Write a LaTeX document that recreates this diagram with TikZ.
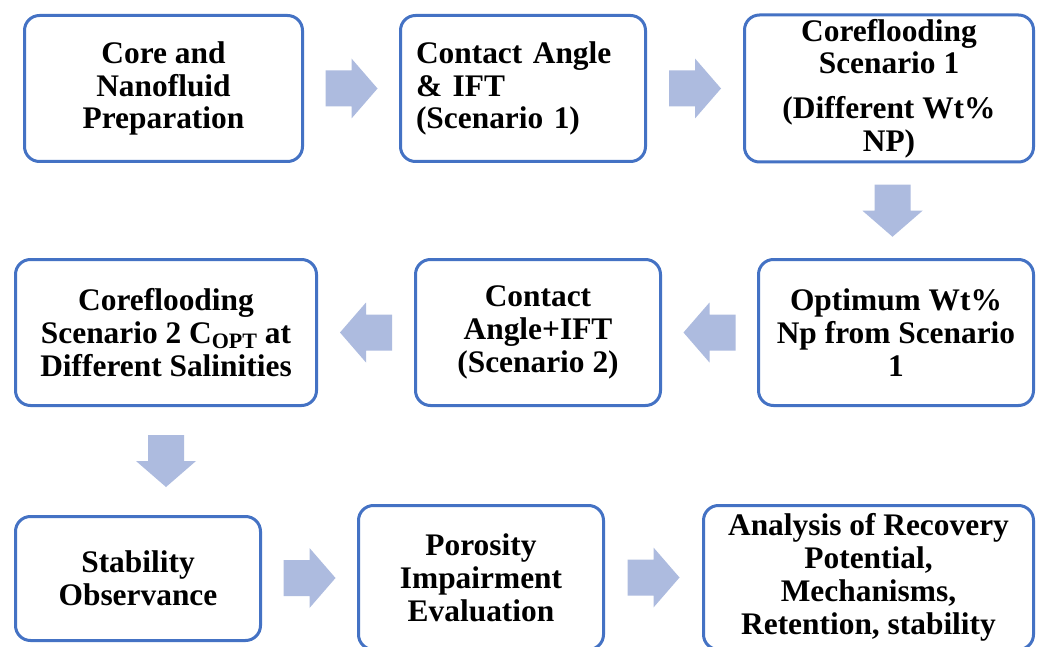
\documentclass[tikz,border=0pt]{standalone}
\usepackage{fontspec}
\setmainfont{Liberation Serif}
\usetikzlibrary{positioning, calc}
\definecolor{boxblue}{HTML}{4472C4}
\definecolor{arrowblue}{HTML}{ADBBDF}
\tikzset{
    stepbox/.style={draw=boxblue, line width=3pt, rounded corners=15pt, fill=white,
        inner sep=0pt, align=center, font=\fontsize{31.4}{32.8}\selectfont\bfseries},
    blockarrow/.pic={\fill[arrowblue] (-26,-18) -- (0,-18) -- (0,-30) -- (26,0)
        -- (0,30) -- (0,18) -- (-26,18) -- cycle;}
}
\newcommand{\copt}{C\raisebox{-5pt}{\fontsize{22}{22}\selectfont OPT}}

\begin{document}
\begin{tikzpicture}[x=1pt, y=-1pt]
    % Page frame
    \clip (0,0) rectangle (1041,647);
    \fill[white] (0,0) rectangle (1041,647);
    % First row of steps
    \node[stepbox, minimum width=278pt, minimum height=146pt] (prep) at (163.5,88.5) {Core and\\Nanofluid\\Preparation};
    \node[stepbox, minimum width=245pt, minimum height=146pt, text width=214pt, align=left] (caone) at (523,88.5) {Contact Angle\\\& IFT\\(Scenario 1)};
    \node[stepbox, minimum width=289pt, minimum height=147pt] (cfone) at (889,88.5) {Coreflooding\\Scenario 1\\[12pt](Different Wt\%\\NP)};
    % Second row of steps
    \node[stepbox, minimum width=275pt, minimum height=146pt] (optnp) at (896,332.5) {Optimum Wt\%\\Np from Scenario\\1};
    \node[stepbox, minimum width=245pt, minimum height=146pt] (catwo) at (538,332.5) {Contact\\Angle+IFT\\(Scenario 2)};
    \node[stepbox, minimum width=301pt, minimum height=146pt] (cftwo) at (166,332.5) {Coreflooding\\Scenario 2 \copt{} at\\Different Salinities};
    % Third row of steps
    \node[stepbox, minimum width=245pt, minimum height=124pt] (stab) at (138,578.5) {Stability\\Observance};
    \node[stepbox, minimum width=245pt, minimum height=144pt] (poro) at (481,577.5) {Porosity\\Impairment\\Evaluation};
    \node[stepbox, minimum width=330pt, minimum height=144pt] (analysis) at (868.5,577.5) {Analysis of Recovery\\Potential,\\Mechanisms,\\Retention, stability};
    % Block arrows between the steps
    \path ($(prep.east)!0.5!(caone.west)$) pic {blockarrow};
    \path ($(caone.east)!0.5!(cfone.west)$) pic {blockarrow};
    \path ($(cfone.south)!0.5!(optnp.north)$) pic[rotate=-90] {blockarrow};
    \path ($(optnp.west)!0.5!(catwo.east)$) pic[rotate=180] {blockarrow};
    \path ($(catwo.west)!0.5!(cftwo.east)$) pic[rotate=180] {blockarrow};
    \path ($(cftwo.south)!0.5!(cftwo.south |- stab.north)$) pic[rotate=-90] {blockarrow};
    \path ($(stab.east)!0.5!(poro.west)$) pic {blockarrow};
    \path ($(poro.east)!0.5!(analysis.west)$) pic {blockarrow};
\end{tikzpicture}
\end{document}
